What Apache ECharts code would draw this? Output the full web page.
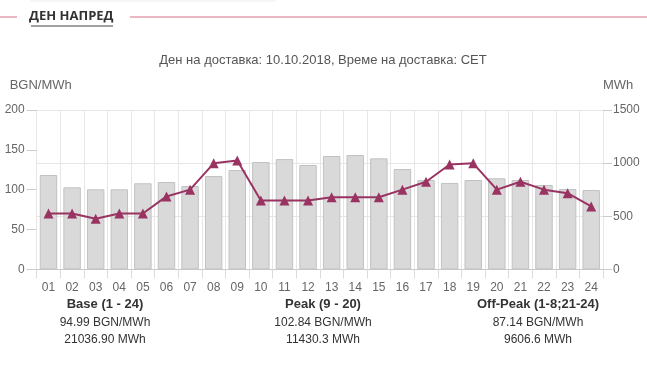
<!DOCTYPE html>
<html>
<head>
<meta charset="utf-8">
<script src="https://cdn.jsdelivr.net/npm/echarts@6/dist/echarts.min.js"></script>
<style>
html,body{margin:0;padding:0;background:#fff;}
#chart{width:647px;height:390px;}
</style>
</head>
<body>
<div id="chart"></div>
<script>
// ---- data ----
const hours = ['01','02','03','04','05','06','07','08','09','10','11','12','13','14','15','16','17','18','19','20','21','22','23','24'];
const volumeMWh = [888,772,753,753,810,822,784,878,935,1010,1038,982,1067,1076,1045,944,841,813,841,857,841,794,756,747];
const priceBGN = [70,70,63.5,70,70,91.5,100,133,136.5,86.5,86.5,86.5,90.5,90.5,90.5,100,110,131.5,133,100,110,100,95.5,79];
const leftTicks = {min:0, max:200, interval:50};
const rightTicks = {min:0, max:1500, interval:500};
const titleText = 'ДЕН НАПРЕД';
const subtitleText = 'Ден на доставка: 10.10.2018, Време на доставка: CET';
const statTitles = ['Base (1 - 24)','Peak (9 - 20)','Off-Peak (1-8;21-24)'];
const statPrices = ['94.99 BGN/MWh','102.84 BGN/MWh','87.14 BGN/MWh'];
const statVolumes = ['21036.90 MWh','11430.3 MWh','9606.6 MWh'];

const chart = echarts.init(document.getElementById('chart'), null, {renderer:'canvas'});
const font = 'Arial, "Liberation Sans", sans-serif';
const statX = [105, 323, 538];
const graphics = [
  {type:'rect', shape:{x:30,y:0,width:246,height:2}, style:{fill:'#f6f6f9'}},
  {type:'rect', shape:{x:0,y:16,width:17,height:2}, style:{fill:'#eab8c4'}},
  {type:'rect', shape:{x:130,y:16,width:517,height:2}, style:{fill:'#eab8c4'}},
  {type:'text', left:29, top:10, style:{text:titleText, font:'bold 13px "Open Sans", sans-serif', fill:'#333'}},
  {type:'rect', shape:{x:31,y:25.5,width:82,height:1}, style:{fill:'#444'}},
  {type:'text', x:323, y:60, style:{text:subtitleText, font:'13px '+font, fill:'#555', textAlign:'center', textVerticalAlign:'middle'}}
];
statTitles.forEach((t,i)=>{
  graphics.push({type:'text', x:statX[i], y:304, style:{text:t, font:'bold 13px '+font, fill:'#333', textAlign:'center', textVerticalAlign:'middle'}});
  graphics.push({type:'text', x:statX[i], y:323, style:{text:statPrices[i], font:'12px '+font, fill:'#333', textAlign:'center', textVerticalAlign:'middle'}});
  graphics.push({type:'text', x:statX[i], y:340, style:{text:statVolumes[i], font:'12px '+font, fill:'#333', textAlign:'center', textVerticalAlign:'middle'}});
});

chart.setOption({
  animation:false,
  textStyle:{fontFamily:font},
  grid:{left:36.7, right:44, top:110, bottom:120.7, containLabel:false},
  graphic:graphics,
  xAxis:{
    type:'category', data:hours, boundaryGap:true,
    axisLine:{show:true, lineStyle:{color:'#c8c8c8'}},
    axisTick:{show:true, length:9, alignWithLabel:false, lineStyle:{color:'#dcdcdc'}},
    axisLabel:{color:'#666', fontSize:12, margin:12, interval:0},
    splitLine:{show:true, lineStyle:{color:'#e6e6e6'}}
  },
  yAxis:[
    {type:'value', position:'left', min:leftTicks.min, max:leftTicks.max, interval:leftTicks.interval,
     name:'BGN/MWh', nameLocation:'end', nameGap:18,
     nameTextStyle:{color:'#666', fontSize:13, align:'left', padding:[0,0,0,-27]},
     axisLine:{show:false}, axisTick:{show:true, length:10, lineStyle:{color:'#ccc'}},
     axisLabel:{color:'#666', fontSize:12, margin:12, formatter:v=>String(v)},
     splitLine:{show:false}},
    {type:'value', position:'right', min:rightTicks.min, max:rightTicks.max, interval:rightTicks.interval,
     name:'MWh', nameLocation:'end', nameGap:18,
     nameTextStyle:{color:'#666', fontSize:13, align:'left', padding:[0,0,0,0]},
     axisLine:{show:false}, axisTick:{show:true, length:9, lineStyle:{color:'#ccc'}},
     axisLabel:{color:'#666', fontSize:12, margin:10, formatter:v=>String(v)},
     splitLine:{show:true, lineStyle:{color:'#e6e6e6'}}}
  ],
  series:[
    {type:'bar', yAxisIndex:1, data:volumeMWh, barCategoryGap:'26%',
     itemStyle:{color:'#d9d9d9', borderColor:'#c2c2c2', borderWidth:1}},
    {type:'line', yAxisIndex:0, data:priceBGN, symbol:'triangle', symbolSize:10,
     lineStyle:{color:'#993361', width:2}, itemStyle:{color:'#993361'}}
  ]
});
</script>
</body>
</html>
